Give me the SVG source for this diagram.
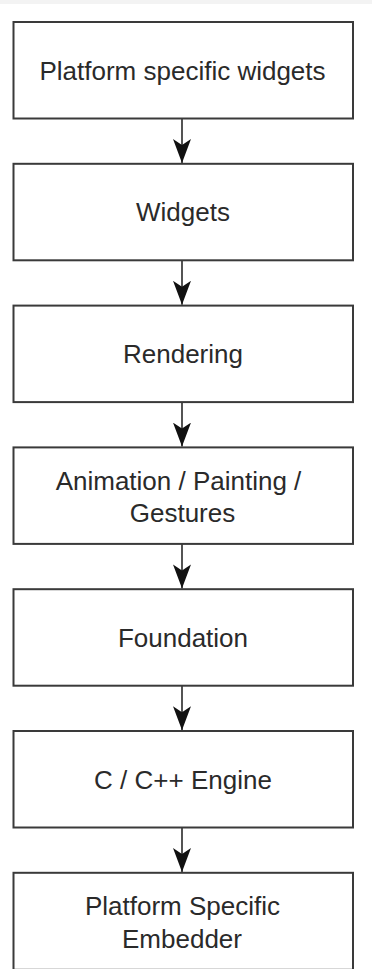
<svg xmlns="http://www.w3.org/2000/svg" width="372" height="969" viewBox="0 0 372 969">
  <style>
    .box { fill: #ffffff; stroke: #3a3a3a; stroke-width: 2; }
    .label { font-family: "Liberation Sans", Arial, sans-serif; font-size: 26px; fill: #2a2a2a; text-anchor: middle; }
    .edge { fill: none; stroke: #2a2a2a; stroke-width: 1.6; marker-end: url(#head); }
  </style>
  <defs>
    <marker id="head" viewBox="0 0 24 18" refX="24" refY="9" markerWidth="24" markerHeight="18" markerUnits="userSpaceOnUse" orient="auto">
      <path d="M0,0 L24,9 L0,18 L6,9 Z" fill="#111111"/>
    </marker>
  </defs>

  <rect x="0" y="0" width="372" height="969" fill="#ffffff"/>
  <rect x="0" y="0" width="372" height="4" fill="#f3f3f3"/>

  <g id="connectors">
    <path class="edge" d="M182,118.5 L182,163"/>
    <path class="edge" d="M182,260.3 L182,304.8"/>
    <path class="edge" d="M182,402.1 L182,446.6"/>
    <path class="edge" d="M182,543.9 L182,588.4"/>
    <path class="edge" d="M182,685.7 L182,730.2"/>
    <path class="edge" d="M182,827.5 L182,872"/>
  </g>

  <g id="platform-widgets">
    <rect class="box" x="13.5" y="22" width="339.5" height="96.5"/>
    <text class="label" x="182.5" y="79.5">Platform specific widgets</text>
  </g>

  <g id="widgets">
    <rect class="box" x="13.5" y="163.8" width="339.5" height="96.5"/>
    <text class="label" x="183" y="221.3">Widgets</text>
  </g>

  <g id="rendering">
    <rect class="box" x="13.5" y="305.6" width="339.5" height="96.5"/>
    <text class="label" x="183" y="363.1">Rendering</text>
  </g>

  <g id="animation-painting-gestures">
    <rect class="box" x="13.5" y="447.4" width="339.5" height="96.5"/>
    <text class="label" x="178.5" y="490">Animation / Painting /</text>
    <text class="label" x="182.5" y="522">Gestures</text>
  </g>

  <g id="foundation">
    <rect class="box" x="13.5" y="589.2" width="339.5" height="96.5"/>
    <text class="label" x="183" y="646.8">Foundation</text>
  </g>

  <g id="engine">
    <rect class="box" x="13.5" y="731" width="339.5" height="96.5"/>
    <text class="label" x="183" y="788.6">C / C++ Engine</text>
  </g>

  <g id="embedder">
    <rect class="box" x="13.5" y="872.8" width="339.5" height="97"/>
    <text class="label" x="182.5" y="915">Platform Specific</text>
    <text class="label" x="182" y="947.5">Embedder</text>
  </g>
</svg>
